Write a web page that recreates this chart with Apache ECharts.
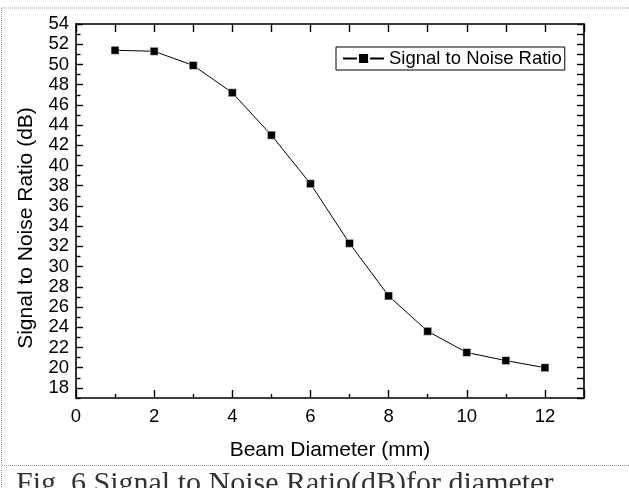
<!DOCTYPE html>
<html>
<head>
<meta charset="utf-8">
<script src="https://cdn.jsdelivr.net/npm/echarts@6/dist/echarts.min.js"></script>
<style>
  html, body { margin: 0; padding: 0; background: #fff; }
  #chart { width: 629px; height: 488px; }
</style>
</head>
<body>
<div id="chart"></div>
<script>
// Beam diameter (mm) and measured signal-to-noise ratio (dB)
const beamDiameter = [1, 2, 3, 4, 5, 6, 7, 8, 9, 10, 11, 12];
const snrValues = [51.4, 51.3, 49.9, 47.2, 43.0, 38.2, 32.3, 27.1, 23.6, 21.5, 20.7, 20.0];

// Tick positions
const yMajorTicks = [18, 20, 22, 24, 26, 28, 30, 32, 34, 36, 38, 40, 42, 44, 46, 48, 50, 52, 54];
const yMinorTicks = [17, 19, 21, 23, 25, 27, 29, 31, 33, 35, 37, 39, 41, 43, 45, 47, 49, 51, 53];

const seriesName = 'Signal to Noise Ratio';
const xTitle = 'Beam Diameter (mm)';
const yTitle = 'Signal to Noise Ratio (dB)';
const caption = 'Fig. 6 Signal to Noise Ratio(dB)for diameter';

const points = beamDiameter.map((x, i) => [x, snrValues[i]]);

const sans = 'Liberation Sans, Arial, sans-serif';
const axisLine = { show: true, onZero: false, lineStyle: { color: '#000', width: 1.6 } };

const chart = echarts.init(document.getElementById('chart'), null, { renderer: 'canvas' });

chart.setOption({
  animation: false,
  backgroundColor: '#fff',
  grid: { left: 76, top: 24, width: 508, height: 374, containLabel: false },
  legend: {
    left: 336, top: 47,
    data: [seriesName],
    itemWidth: 41, itemHeight: 14,
    padding: [2, 3, 2, 6],
    borderColor: '#000', borderWidth: 1, borderRadius: 0,
    textStyle: { fontFamily: sans, fontSize: 18.5, color: '#000', padding: [2, 0, 1, 0] }
  },
  xAxis: [
    {
      type: 'value', position: 'bottom', min: 0, max: 13, interval: 2,
      axisLine: axisLine,
      axisTick: { show: true, inside: true, length: 8, lineStyle: { color: '#000', width: 1.4 } },
      minorTick: { show: true, splitNumber: 2, length: 4, lineStyle: { color: '#000', width: 1.4 } },
      axisLabel: { showMaxLabel: false, fontFamily: sans, fontSize: 18.5, color: '#000', margin: 9 },
      splitLine: { show: false },
      name: xTitle, nameLocation: 'middle', nameGap: 42,
      nameTextStyle: { fontFamily: sans, fontSize: 21, color: '#000' }
    },
    {
      type: 'value', position: 'top', min: 0, max: 13, interval: 1,
      axisLine: axisLine,
      axisTick: { show: true, inside: true, length: 8, lineStyle: { color: '#000', width: 1.4 } },
      axisLabel: { show: false },
      splitLine: { show: false }
    }
  ],
  yAxis: [
    {
      type: 'value', position: 'left', min: 17, max: 54,
      axisLine: axisLine,
      axisTick: { show: true, inside: true, length: 7, customValues: yMajorTicks, lineStyle: { color: '#000', width: 1.4 } },
      axisLabel: { customValues: yMajorTicks, fontFamily: sans, fontSize: 18.5, color: '#000', margin: 7 },
      splitLine: { show: false },
      name: yTitle, nameLocation: 'middle', nameGap: 39,
      nameTextStyle: { fontFamily: sans, fontSize: 21, color: '#000', padding: [0, 34, 0, 0] }
    },
    {
      type: 'value', position: 'left', min: 17, max: 54,
      axisLine: { show: false },
      axisTick: { show: true, inside: true, length: 4.5, customValues: yMinorTicks, lineStyle: { color: '#000', width: 1.4 } },
      axisLabel: { show: false },
      splitLine: { show: false }
    },
    {
      type: 'value', position: 'right', min: 17, max: 54, interval: 1,
      axisLine: axisLine,
      axisTick: { show: true, inside: true, length: 7, lineStyle: { color: '#000', width: 1.4 } },
      axisLabel: { show: false },
      splitLine: { show: false }
    }
  ],
  series: [
    {
      name: seriesName,
      type: 'line',
      xAxisIndex: 0, yAxisIndex: 0,
      data: points,
      symbol: 'rect', symbolSize: 8,
      lineStyle: { color: '#000', width: 1 },
      itemStyle: { color: '#000', borderColor: '#fff', borderWidth: 0.5 }
    }
  ],
  graphic: [
    // dotted page frame
    { type: 'line', shape: { x1: 2, y1: 8, x2: 629, y2: 8 }, style: { stroke: '#999', lineWidth: 1, lineDash: [1, 1] }, silent: true },
    { type: 'line', shape: { x1: 1.5, y1: 8, x2: 1.5, y2: 488 }, style: { stroke: '#999', lineWidth: 1, lineDash: [1, 1] }, silent: true },
    { type: 'line', shape: { x1: 2, y1: 465.5, x2: 629, y2: 465.5 }, style: { stroke: '#999', lineWidth: 1, lineDash: [1, 1] }, silent: true },
    {
      type: 'text', left: 16, top: 469, silent: true,
      style: { text: caption, fontFamily: 'Liberation Serif, serif', fontSize: 30, fill: '#333' }
    }
  ]
});
</script>
</body>
</html>
